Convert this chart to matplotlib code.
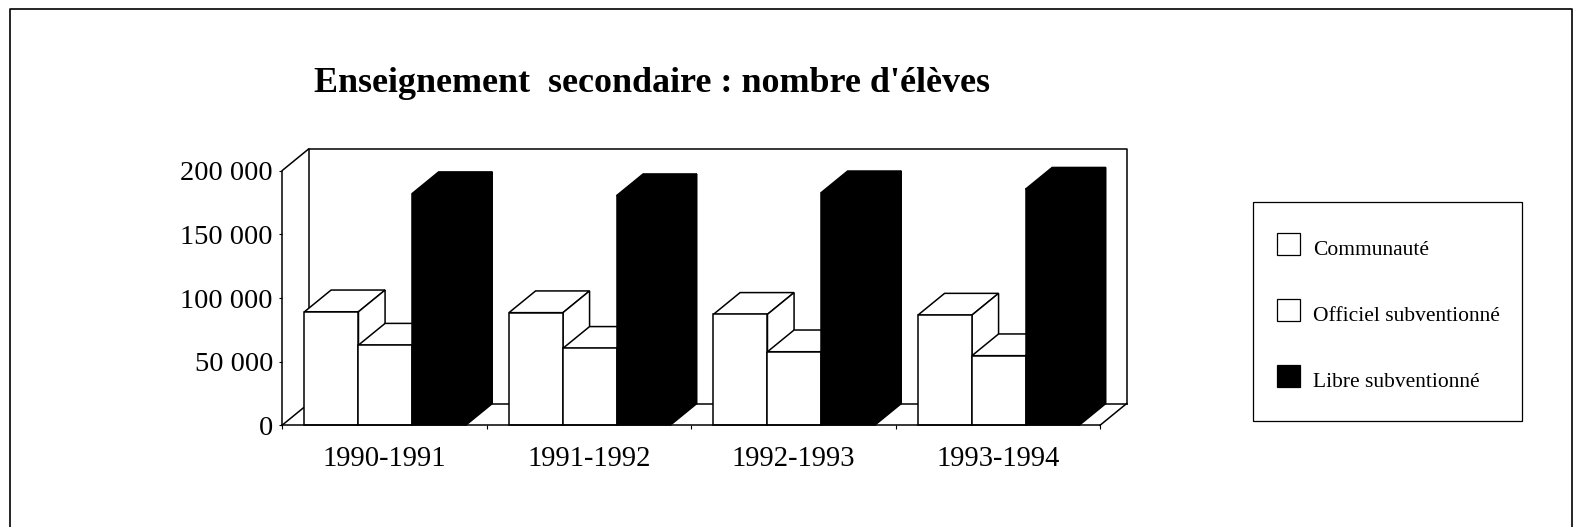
import matplotlib
matplotlib.use("Agg")
from matplotlib import pyplot as plt
from matplotlib.patches import Polygon, Rectangle
from matplotlib.lines import Line2D

annees = ["1990-1991", "1991-1992", "1992-1993", "1993-1994"]
communaute = [89200, 88500, 87200, 86600]
officiel = [63000, 60500, 57800, 54700]
libre = [182000, 180400, 182700, 185500]
noms = ["Communauté", "Officiel subventionné", "Libre subventionné"]
graduations = [0, 50000, 100000, 150000, 200000]
etiquettes = ["0", "50 000", "100 000", "150 000", "200 000"]

W, H = 1574, 527
plt.rcParams["font.family"] = ["Liberation Serif", "DejaVu Serif"]

fig = plt.figure(figsize=(W / 100, H / 100), dpi=100)
ax = fig.add_axes([282 / W, 1 - 425.3 / H, 818 / W, 254.6 / H])
ax.set_xlim(0, 4)
ax.set_ylim(0, 200000)

# profondeur du faux 3D, en unites de donnees
dx = 0.13
dy = 17050
l1, l2, l3 = 0.264, 0.262, 0.262
debut = 0.11
lw = 1.1

# murs du fond
ax.plot([dx, dx, 4 + dx, 4 + dx], [dy, 200000 + dy, 200000 + dy, dy], color="k", lw=lw, clip_on=False)
ax.plot([dx, 4 + dx], [dy, dy], color="k", lw=lw, clip_on=False)
ax.plot([0, 0, dx], [0, 200000, 200000 + dy], color="k", lw=lw, clip_on=False)
ax.plot([0, dx], [0, dy], color="k", lw=lw, clip_on=False)
ax.plot([4, 4 + dx], [0, dy], color="k", lw=lw, clip_on=False)


def barre(x, v, largeur, couleur):
    ax.add_patch(Polygon([(x, v), (x + largeur, v), (x + largeur + dx, v + dy), (x + dx, v + dy)],
                         facecolor=couleur, edgecolor="k", lw=lw, clip_on=False, zorder=3))
    ax.add_patch(Polygon([(x + largeur, 0), (x + largeur + dx, dy), (x + largeur + dx, v + dy), (x + largeur, v)],
                         facecolor=couleur, edgecolor="k", lw=lw, clip_on=False, zorder=3))
    ax.bar(x, v, largeur, align="edge", color=couleur, edgecolor="k", lw=lw, clip_on=False, zorder=3)


for i in range(len(annees)):
    barre(i + debut, communaute[i], l1, "white")
    barre(i + debut + l1, officiel[i], l2, "white")
    barre(i + debut + l1 + l2, libre[i], l3, "black")

for s in ["top", "right", "left"]:
    ax.spines[s].set_visible(False)
ax.spines["bottom"].set_linewidth(lw)
ax.spines["bottom"].set_zorder(5)
ax.patch.set_visible(False)

ax.set_yticks(graduations, etiquettes, fontsize=20.5)
ax.set_xticks(range(5))
ax.set_xticks([i + 0.5 for i in range(4)], annees, minor=True, fontsize=20.6)
ax.set_xticklabels([])
ax.tick_params(axis="x", which="major", length=3, width=0.8, direction="out")
ax.tick_params(axis="x", which="minor", length=0, pad=15)
ax.tick_params(axis="y", length=2, width=0.8, pad=4.5)

fig.text(314 / W, 1 - 84 / H, "Enseignement  secondaire : nombre d'élèves",
         fontsize=25.9, fontweight="bold", va="center", ha="left")

# legende : cadre a part pour avoir des marges differentes en x et en y
fig.add_artist(Rectangle((1252.7 / W, 1 - 421 / H), 269.3 / W, 219 / H, transform=fig.transFigure,
                         facecolor="none", edgecolor="k", lw=0.9, zorder=-1))
poignees = [Rectangle((0, 0), 1, 1, facecolor=c, edgecolor="k", lw=0.9) for c in ["white", "white", "black"]]
leg = ax.legend(poignees, noms, loc="upper left", bbox_to_anchor=(1277 / W, 1 - 232.5 / H),
                bbox_transform=fig.transFigure, fontsize=15.5, frameon=False,
                handlelength=1.06, handleheight=1.25,
                labelspacing=1.97, handletextpad=0.6, borderpad=0, borderaxespad=0)
leg.set_zorder(10)
for t in leg.get_texts():
    t.set_position((0, -4))

# cadre de la page, ouvert en bas
fig.add_artist(Line2D([9.5 / W, 9.5 / W, 1572 / W, 1572 / W], [0, 1 - 9 / H, 1 - 9 / H, 0], color="k", lw=1.2))

fig.savefig("out.png", dpi=100)
